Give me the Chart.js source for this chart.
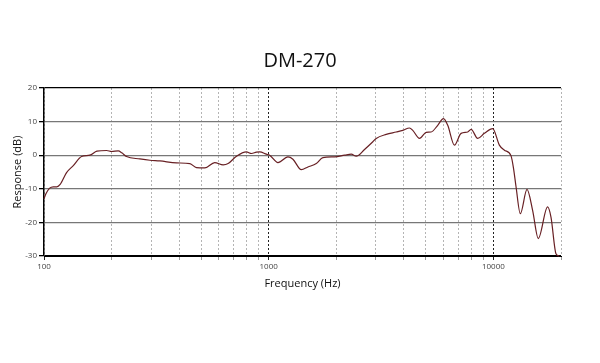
<!DOCTYPE html>
<html>
<head>
<meta charset="utf-8">
<title>DM-270</title>
<script src="https://cdn.jsdelivr.net/npm/chart.js@4.4.1/dist/chart.umd.min.js"></script>
<style>
    html, body { margin: 0; padding: 0; background: #fff; }
    #wrap { width: 600px; height: 363px; }
</style>
</head>
<body>
<div id="wrap"><canvas id="response-chart" width="600" height="363"></canvas></div>
<script>
    // Frequency response
    var frequencies = [
        100, 102, 106, 110, 114, 118, 126, 135, 147, 160,
        172, 190, 200, 214, 222, 233, 267, 296, 328, 389,
        446, 477, 520, 575, 627, 660, 719, 796, 838, 882,
        912, 977, 1010, 1100, 1218, 1282, 1397, 1495, 1629, 1743,
        1966, 2177, 2331, 2453, 2671, 2908, 3010, 3336, 3695, 3954,
        4234, 4379, 4690, 5022, 5285, 5655, 5995, 6265, 6709, 7184,
        7688, 7960, 8517, 9120, 9929, 10634, 11190, 11986, 12300, 12616,
        13183, 14118, 14952, 15849, 17431, 18048, 18996, 19650
    ];
    var response = [
        -13, -11.5, -9.8, -9.4, -9.4, -8.7, -5.2, -3.1, -0.4, 0,
        1.2, 1.4, 1.1, 1.3, 0.7, -0.4, -1.1, -1.5, -1.7, -2.3,
        -2.5, -3.7, -3.8, -2.2, -2.9, -2.5, -0.3, 1.0, 0.5, 0.9,
        1.0, 0.3, 0, -2.2, -0.5, -1.2, -4.3, -3.5, -2.5, -0.7,
        -0.5, 0, 0.3, -0.3, 1.7, 4.0, 5.0, 6.2, 6.9, 7.4,
        8.1, 7.4, 5.0, 6.8, 6.9, 8.9, 10.9, 8.9, 3.0, 6.5,
        6.9, 7.7, 5.0, 6.5, 7.9, 3.0, 1.5, -0.2, -4, -9.4,
        -17.4, -10.2, -16.4, -24.8, -15.4, -18.4, -29.3, -30
    ];

    var xTicks = [100, 200, 300, 400, 500, 600, 700, 800, 900,
        1000, 2000, 3000, 4000, 5000, 6000, 7000, 8000, 9000, 10000, 20000];
    var xTickLabels = { 100: '100', 1000: '1000', 10000: '10000' };
    var yTicks = [20, 10, 0, -10, -20, -30];

    var points = frequencies.map(function(f, i) {
        return { x: f, y: response[i] };
    });

    function isDecade(v) {
        return v === 1000 || v === 10000;
    }

    var ctx = document.getElementById('response-chart').getContext('2d');
    var chart = new Chart(ctx, {
        type: 'scatter',
        data: {
            datasets: [{
                data: points,
                showLine: true,
                borderColor: 'rgb(104, 32, 36)',
                borderWidth: 1.2,
                pointRadius: 0,
                cubicInterpolationMode: 'monotone',
                clip: 2
            }]
        },
        options: {
            responsive: false,
            animation: false,
            layout: {
                padding: { left: 0, right: 0, top: 0, bottom: 73 }
            },
            plugins: {
                legend: { display: false },
                tooltip: { enabled: false },
                title: {
                    display: true,
                    text: 'DM-270',
                    color: '#111',
                    font: { family: 'Open Sans', size: 20, weight: 'normal' },
                    padding: { top: 49, bottom: 15 }
                }
            },
            scales: {
                x: {
                    type: 'logarithmic',
                    min: 100,
                    max: 20000,
                    afterBuildTicks: function(scale) {
                        scale.ticks = xTicks.map(function(v) { return { value: v }; });
                    },
                    afterFit: function(scale) {
                        scale.height = 34;
                    },
                    ticks: {
                        autoSkip: false,
                        maxRotation: 0,
                        padding: 2,
                        color: '#444',
                        font: { family: 'Open Sans', size: 8 },
                        callback: function(value) {
                            return xTickLabels[value] || '';
                        }
                    },
                    grid: {
                        color: function(c) {
                            var v = c.tick && c.tick.value;
                            return isDecade(v) ? '#222' : '#b4b4b4';
                        },
                        lineWidth: 1,
                        tickLength: 4,
                        tickColor: function(c) {
                            var v = c.tick && c.tick.value;
                            return isDecade(v) || v === 100 ? '#222' : '#999';
                        },
                        tickBorderDash: []
                    },
                    border: {
                        color: '#000',
                        width: 1,
                        dash: function(c) {
                            return c.tick ? [2, 2] : [];
                        }
                    },
                    title: {
                        display: true,
                        text: 'Frequency (Hz)',
                        color: '#111',
                        font: { family: 'Open Sans', size: 11 },
                        padding: { top: 4, bottom: 0 }
                    }
                },
                y: {
                    min: -30,
                    max: 20,
                    afterBuildTicks: function(scale) {
                        scale.ticks = yTicks.map(function(v) { return { value: v }; });
                    },
                    afterFit: function(scale) {
                        scale.width = 44;
                    },
                    ticks: {
                        padding: 2,
                        color: '#444',
                        font: { family: 'Open Sans', size: 8 }
                    },
                    grid: {
                        color: function(c) {
                            var v = c.tick && c.tick.value;
                            return v === 20 || v === -30 ? '#000' : '#777';
                        },
                        lineWidth: 1.3,
                        tickLength: 5,
                        tickColor: '#000'
                    },
                    border: {
                        color: '#000',
                        width: 1.5
                    },
                    title: {
                        display: true,
                        text: 'Response (dB)',
                        color: '#111',
                        font: { family: 'Open Sans', size: 11 },
                        padding: { top: 11, bottom: 0 }
                    }
                },
                // empty right-hand spacer so the title centres on the whole page
                spacer: {
                    type: 'linear',
                    position: 'right',
                    min: 0,
                    max: 1,
                    afterFit: function(scale) {
                        scale.width = 39;
                    },
                    ticks: { display: false },
                    grid: { display: false },
                    border: { display: false }
                }
            }
        }
    });
</script>
</body>
</html>
